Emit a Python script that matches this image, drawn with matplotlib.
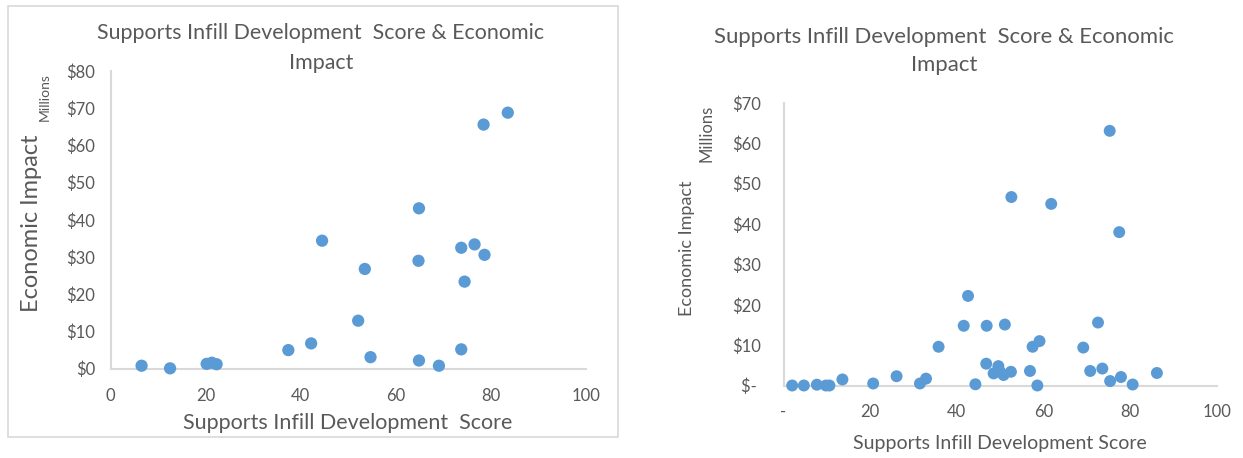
import matplotlib.pyplot as plt
from matplotlib.patches import Rectangle
from matplotlib.ticker import FixedLocator

# datos
left_x = [6.5, 12.5, 20.2, 21.3, 22.3, 37.4, 42.2, 44.5, 52.1, 53.5, 54.7,
          64.9, 64.8, 64.9, 69.1, 73.8, 73.8, 76.6, 78.7, 74.5, 78.5, 83.6]
left_y = [0.8, 0.1, 1.3, 1.6, 1.2, 5.0, 6.8, 34.4, 12.9, 26.8, 3.1,
          43.1, 29.0, 2.2, 0.8, 5.2, 32.5, 33.4, 30.6, 23.4, 65.6, 68.8]

right_x = [2.0, 4.7, 7.7, 9.8, 10.6, 13.6, 20.7, 26.1, 31.5, 32.9, 35.8,
           41.6, 42.6, 44.3, 46.8, 46.9, 48.5, 49.6, 50.0, 50.8, 52.5, 51.1,
           52.6, 56.9, 57.5, 58.6, 59.1, 61.8, 69.2, 70.8, 72.6, 73.6, 75.3,
           75.4, 77.5, 77.9, 80.6, 86.2]
right_y = [0, 0, 0.2, 0, 0, 1.5, 0.5, 2.3, 0.5, 1.7, 9.6,
           14.8, 22.2, 0.3, 5.4, 14.8, 3.0, 4.8, 3.4, 2.6, 3.4, 15.1,
           46.7, 3.6, 9.6, 0, 11.0, 45.0, 9.4, 3.6, 15.6, 4.2, 63.1,
           1.1, 38.0, 2.1, 0.25, 3.1]

left_yticks = [0, 10, 20, 30, 40, 50, 60, 70, 80]
left_ylabels = ["$0", "$10", "$20", "$30", "$40", "$50", "$60", "$70", "$80"]
left_xticks = [0, 20, 40, 60, 80, 100]
left_xlabels = ["0", "20", "40", "60", "80", "100"]

right_yticks = [0, 10, 20, 30, 40, 50, 60, 70]
right_ylabels = ["$- ", "$10", "$20", "$30", "$40", "$50", "$60", "$70"]
right_xticks = [0, 20, 40, 60, 80, 100]
right_xlabels = ["-", "20", "40", "60", "80", "100"]

titulo = "Supports Infill Development  Score & Economic\nImpact"

azul = "#5B9BD5"
gris = "#595959"
linea = "#D9D9D9"

plt.rcParams["font.family"] = ["Lato", "DejaVu Sans"]

fig = plt.figure(figsize=(12.43, 4.58), dpi=100)

# recuadro del grafico izquierdo
fig.patches.append(Rectangle((8 / 1243, 21 / 458), 610 / 1243, 431 / 458,
                             transform=fig.transFigure, fill=False,
                             edgecolor=linea, linewidth=1.2))


def preparar(ax, xt, xl, yt, yl, ymax, xpad, ypad):
    ax.set_xlim(0, 100)
    ax.set_ylim(0, ymax)
    for lado in ["top", "right"]:
        ax.spines[lado].set_visible(False)
    for lado in ["left", "bottom"]:
        ax.spines[lado].set_color(linea)
        ax.spines[lado].set_linewidth(1.5)
    ax.xaxis.set_major_locator(FixedLocator(xt))
    ax.set_xticklabels(xl)
    ax.yaxis.set_major_locator(FixedLocator(yt))
    ax.set_yticklabels(yl)
    ax.tick_params(axis="x", length=0, pad=xpad, labelsize=12, labelcolor=gris)
    ax.tick_params(axis="y", length=0, pad=ypad, labelsize=12, labelcolor=gris)


# grafico izquierdo
ax1 = fig.add_axes([110.7 / 1243, 89.3 / 458, 475 / 1243, 297.7 / 458])
preparar(ax1, left_xticks, left_xlabels, left_yticks, left_ylabels, 80, 14, 11)
ax1.scatter(left_x, left_y, s=78, color=azul, edgecolors="none", zorder=3, clip_on=False)
ax1.set_xlabel("Supports Infill Development  Score", fontsize=15.5, color=gris)
ax1.xaxis.set_label_coords(0.4996, -0.15)
ax1.set_ylabel("Economic Impact", fontsize=17, color=gris)
ax1.yaxis.set_label_coords(-0.1446, 0.49)
ax1.text(-0.138, 0.913, "Millions", transform=ax1.transAxes, rotation=90,
         fontsize=10, color=gris, ha="center", va="center")
fig.text(321 / 1243, 1 - 48 / 458, titulo, ha="center", va="center",
         fontsize=15.4, color=gris, linespacing=1.6)

# grafico derecho
ax2 = fig.add_axes([783.5 / 1243, 72.5 / 458, 433.2 / 1243, 282.5 / 458])
preparar(ax2, right_xticks, right_xlabels, right_yticks, right_ylabels, 70, 13, 16)
ax2.scatter(right_x, right_y, s=74, color=azul, edgecolors="none", zorder=3, clip_on=False)
ax2.set_xlabel("Supports Infill Development Score", fontsize=14, color=gris)
ax2.xaxis.set_label_coords(0.5, -0.175)
ax2.set_ylabel("Economic Impact", fontsize=13, color=gris)
ax2.yaxis.set_label_coords(-0.204, 0.487)
ax2.text(-0.177, 0.894, "Millions", transform=ax2.transAxes, rotation=90,
         fontsize=12, color=gris, ha="center", va="center")
fig.text(944 / 1243, 1 - 51 / 458, titulo, ha="center", va="center",
         fontsize=15.9, color=gris, linespacing=1.55)

fig.savefig("out.png", dpi=100)
